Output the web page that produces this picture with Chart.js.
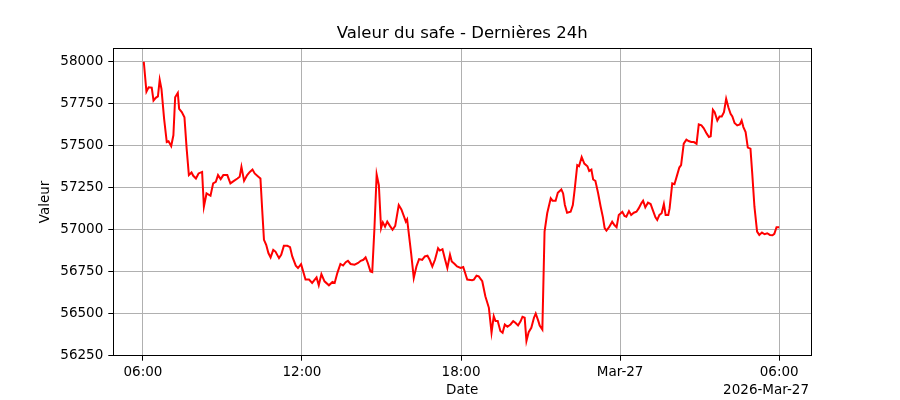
<!DOCTYPE html>
<html>
<head>
<meta charset="utf-8">
<title>Valeur du safe</title>
<script src="https://cdn.jsdelivr.net/npm/chart.js@4/dist/chart.umd.min.js"></script>
<style>
	html, body { margin: 0; padding: 0; background: #fff; }
	#chart { display: block; }
</style>
</head>
<body>
<canvas id="chart" width="900" height="400"></canvas>
<script>
// minutes after 2026-03-26 06:00
const offsets = [
	2, 8, 13, 20, 24, 29, 34, 38, 42, 48, 54, 58, 64, 69, 73, 79, 82, 88, 94, 99,
	104, 110, 114, 120, 126, 134, 138, 144, 153, 159, 165, 170, 176, 182, 191, 198, 206, 214, 219, 223,
	229, 236, 242, 248, 253, 260, 266, 270, 274, 279, 284, 289, 295, 300, 308, 313, 319, 327, 333, 338,
	346, 351, 358, 368, 376, 383, 393, 398, 404, 411, 421, 429, 434, 440, 447, 453, 459, 464, 470, 479,
	487, 493, 499, 504, 509, 515, 519, 524, 529, 534, 539, 543, 548, 553, 559, 565, 571, 579, 585, 591,
	595, 598, 607, 613, 619, 625, 632, 638, 644, 649, 655, 661, 668, 672, 678, 684, 689, 695, 699, 705,
	711, 719, 725, 734, 745, 749, 755, 760, 768, 775, 783, 789, 794, 798, 803, 809, 814, 819, 825, 832,
	838, 843, 849, 855, 859, 864, 868, 873, 879, 885, 889, 895, 898, 904, 909, 915, 923, 927, 934, 939,
	947, 951, 955, 960, 968, 973, 977, 983, 987, 993, 999, 1006, 1010, 1015, 1019, 1024, 1030, 1036, 1041, 1045,
	1049, 1055, 1062, 1067, 1072, 1077, 1085, 1090, 1094, 1100, 1105, 1111, 1117, 1122, 1128, 1132, 1137, 1143, 1149, 1154,
	1160, 1164, 1169, 1174, 1179, 1183, 1189, 1192, 1198, 1203, 1209, 1214, 1218, 1224, 1230, 1235, 1241, 1247, 1253, 1258,
	1264, 1269, 1276, 1281, 1285, 1290, 1294, 1300, 1305, 1310, 1315, 1320, 1325, 1330, 1334, 1339, 1345, 1351, 1355, 1359,
	1364, 1369, 1375, 1379, 1384, 1390, 1395, 1401, 1407, 1413, 1419, 1425, 1429, 1434, 1440
];
const values = [
	58000, 57822, 57848, 57846, 57769, 57785, 57794, 57893, 57838, 57660, 57522, 57526, 57498, 57562, 57789, 57815, 57720, 57700, 57670, 57483,
	57325, 57341, 57321, 57305, 57335, 57344, 57137, 57216, 57202, 57276, 57285, 57325, 57301, 57325, 57325, 57276, 57291, 57305, 57315, 57374,
	57291, 57325, 57344, 57358, 57335, 57319, 57305, 57117, 56940, 56910, 56861, 56835, 56880, 56870, 56831, 56851, 56904, 56904, 56896, 56841,
	56786, 56772, 56795, 56703, 56703, 56683, 56716, 56669, 56736, 56693, 56669, 56689, 56683, 56742, 56796, 56787, 56807, 56815, 56796, 56792,
	56802, 56815, 56821, 56835, 56802, 56752, 56748, 57009, 57329, 57265, 57009, 57044, 57018, 57048, 57023, 57000, 57023, 57147, 57121, 57078,
	57048, 57062, 56861, 56713, 56781, 56825, 56821, 56841, 56845, 56821, 56781, 56821, 56890, 56876, 56884, 56821, 56772, 56851, 56811, 56797,
	56781, 56772, 56778, 56703, 56699, 56703, 56726, 56722, 56693, 56604, 56535, 56387, 56485, 56456, 56456, 56397, 56387, 56436, 56422, 56436,
	56456, 56446, 56430, 56456, 56482, 56476, 56337, 56390, 56416, 56476, 56501, 56456, 56430, 56406, 56989, 57098, 57187, 57173, 57173, 57220,
	57240, 57216, 57147, 57101, 57107, 57147, 57236, 57384, 57378, 57433, 57394, 57378, 57350, 57358, 57299, 57291, 57220, 57137, 57075, 57009,
	56995, 57015, 57048, 57028, 57015, 57088, 57107, 57082, 57078, 57111, 57088, 57101, 57107, 57127, 57157, 57173, 57133, 57161, 57153, 57117,
	57074, 57058, 57088, 57098, 57153, 57088, 57088, 57127, 57276, 57271, 57325, 57370, 57384, 57512, 57536, 57528, 57522, 57522, 57512, 57627,
	57621, 57605, 57572, 57552, 57556, 57714, 57700, 57650, 57674, 57674, 57700, 57779, 57729, 57690, 57674, 57635, 57621, 57627, 57650, 57611,
	57581, 57489, 57483, 57335, 57137, 56989, 56969, 56983, 56973, 56979, 56969, 56967, 56975, 57015, 57015
];

const tickOffsets = [0, 360, 720, 1080, 1440];
const tickLabels = ['06:00', '12:00', '18:00', 'Mar-27', '06:00'];
const valueTicks = [56250, 56500, 56750, 57000, 57250, 57500, 57750, 58000];
const dateLabel = '2026-Mar-27';

const FONT = "'DejaVu Sans', sans-serif";
Chart.defaults.font.family = FONT;
Chart.defaults.font.size = 13.5;
Chart.defaults.color = '#000';

// frame round the plot + date offset text under the x axis
const framePlugin = {
	id: 'frame',
	afterDraw(chart) {
		const ctx = chart.ctx;
		const a = chart.chartArea;
		ctx.save();
		ctx.strokeStyle = '#000';
		ctx.lineWidth = 1;
		ctx.strokeRect(Math.round(a.left) + 0.5, Math.round(a.top) + 0.5, Math.round(a.right - a.left), Math.round(a.bottom - a.top));
		ctx.font = '13.5px ' + FONT;
		ctx.fillStyle = '#000';
		ctx.textAlign = 'right';
		ctx.textBaseline = 'middle';
		ctx.fillText(dateLabel, a.right - 2, 390);
		ctx.restore();
	}
};

const points = offsets.map(function (m, i) {
	return { x: m, y: values[i] };
});

new Chart(document.getElementById('chart').getContext('2d'), {
	type: 'line',
	data: {
		datasets: [{
			data: points,
			borderColor: '#ff0000',
			borderWidth: 2,
			pointRadius: 0,
			tension: 0,
			fill: false
		}]
	},
	options: {
		responsive: false,
		animation: false,
		devicePixelRatio: 1,
		layout: { padding: { left: 0, right: 89, top: 0, bottom: 0 } },
		plugins: {
			legend: { display: false },
			tooltip: { enabled: false },
			title: {
				display: true,
				text: 'Valeur du safe - Dernières 24h',
				fullSize: false,
				color: '#000',
				font: { size: 16.5, weight: 'normal' },
				padding: { top: 24, bottom: 4.5 }
			}
		},
		scales: {
			x: {
				type: 'linear',
				min: -67,
				max: 1512,
				afterBuildTicks: function (scale) {
					scale.ticks = tickOffsets.map(function (v) { return { value: v }; });
				},
				afterFit: function (scale) {
					scale.height = 44.3;
				},
				ticks: {
					autoSkip: false,
					maxRotation: 0,
					padding: 4,
					callback: function (value, index) {
						return tickLabels[index];
					}
				},
				grid: { color: '#b0b0b0', lineWidth: 1, tickColor: '#000', tickLength: 5 },
				border: { display: false },
				title: { display: true, text: 'Date', padding: { top: 0, bottom: 1 } }
			},
			y: {
				min: 56250,
				max: 58080,
				afterBuildTicks: function (scale) {
					scale.ticks = valueTicks.map(function (v) { return { value: v }; });
				},
				afterFit: function (scale) {
					scale.width = 113.3;
				},
				ticks: {
					autoSkip: false,
					padding: 5,
					callback: function (value) {
						return String(value);
					}
				},
				grid: { color: '#b0b0b0', lineWidth: 1, tickColor: '#000', tickLength: 5 },
				border: { display: false },
				title: { display: true, text: 'Valeur', padding: { top: 37, bottom: 0 } }
			}
		}
	},
	plugins: [framePlugin]
});
</script>
</body>
</html>
